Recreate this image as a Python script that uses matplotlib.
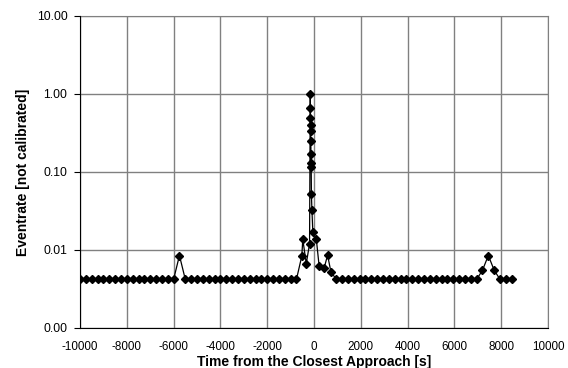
import matplotlib
matplotlib.use("Agg")
import matplotlib.pyplot as plt
from matplotlib.ticker import FixedLocator, FixedFormatter, NullLocator

plt.rcParams["font.family"] = ["Liberation Sans", "DejaVu Sans"]

# ------------------------------------------------------------
# Data
# ------------------------------------------------------------
time_before = [-10000, -9750, -9500, -9250, -9000, -8750, -8500, -8250,
               -8000, -7750, -7500, -7250, -7000, -6750, -6500, -6250,
               -6000, -5750, -5500, -5250, -5000, -4750, -4500, -4250,
               -4000, -3750, -3500, -3250, -3000, -2750, -2500, -2250,
               -2000, -1750, -1500, -1250, -1000, -750]
rate_before = [0.0042, 0.0042, 0.0042, 0.0042, 0.0042, 0.0042, 0.0042, 0.0042,
               0.0042, 0.0042, 0.0042, 0.0042, 0.0042, 0.0042, 0.0042, 0.0042,
               0.0042, 0.0085, 0.0042, 0.0042, 0.0042, 0.0042, 0.0042, 0.0042,
               0.0042, 0.0042, 0.0042, 0.0042, 0.0042, 0.0042, 0.0042, 0.0042,
               0.0042, 0.0042, 0.0042, 0.0042, 0.0042, 0.0042]

time_peak = [-520, -480, -330, -190, -160, -155, -150, -145, -140, -135,
             -130, -125, -120, -110, -90, -50, 100, 220, 430, 580, 720]
rate_peak = [0.0084, 0.0137, 0.0067, 0.0120, 1.0, 0.66, 0.49, 0.40, 0.34, 0.25,
             0.17, 0.13, 0.117, 0.052, 0.033, 0.0172, 0.0137, 0.0062, 0.0058,
             0.0086, 0.0053]

time_after = [950, 1200, 1450, 1700, 1950, 2200, 2450, 2700, 2950, 3200,
              3450, 3700, 3950, 4200, 4450, 4700, 4950, 5200, 5450, 5700,
              5950, 6200, 6450, 6700, 6950, 7200, 7450, 7700, 7950, 8200, 8450]
rate_after = [0.0042, 0.0042, 0.0042, 0.0042, 0.0042, 0.0042, 0.0042, 0.0042,
              0.0042, 0.0042, 0.0042, 0.0042, 0.0042, 0.0042, 0.0042, 0.0042,
              0.0042, 0.0042, 0.0042, 0.0042, 0.0042, 0.0042, 0.0042, 0.0042,
              0.0042, 0.0055, 0.0085, 0.0055, 0.0042, 0.0042, 0.0042]

x_ticks = [-10000, -8000, -6000, -4000, -2000, 0, 2000, 4000, 6000, 8000, 10000]
y_ticks = [0.001, 0.01, 0.1, 1.0, 10.0]
y_labels = ["0.00", "0.01", "0.10", "1.00", "10.00"]

times = time_before + time_peak + time_after
rates = rate_before + rate_peak + rate_after

# ------------------------------------------------------------
# Figure
# ------------------------------------------------------------
fig = plt.figure(figsize=(5.68, 3.68), dpi=100)
ax = fig.add_axes([80 / 568, 1 - 328 / 368, 468 / 568, 312 / 368])

ax.plot(times, rates, color="black", lw=0.9, marker="D", markersize=4.2,
        markerfacecolor="black", markeredgecolor="black", zorder=3)

ax.set_yscale("log")
ax.set_ylim(0.001, 10)
ax.set_xlim(-10000, 10000)

ax.yaxis.set_major_locator(FixedLocator(y_ticks))
ax.yaxis.set_major_formatter(FixedFormatter(y_labels))
ax.yaxis.set_minor_locator(NullLocator())
ax.set_xticks(x_ticks)
ax.set_xticklabels([str(t) for t in x_ticks])

ax.grid(True, which="major", color="#808080", lw=1.0)
ax.set_axisbelow(True)

for side in ["top", "right"]:
    ax.spines[side].set_color("#808080")
for side in ["left", "bottom"]:
    ax.spines[side].set_color("black")
    ax.spines[side].set_zorder(4)

ax.tick_params(axis="y", direction="out", length=4, width=0.8, pad=5,
               labelsize=8.8, colors="black")
ax.tick_params(axis="x", length=0, pad=9, labelsize=8.4, colors="black")

ax.set_xlabel("Time from the Closest Approach [s]", fontsize=10,
              fontweight="bold", labelpad=1.5)
ax.set_ylabel("Eventrate [not calibrated]", fontsize=10,
              fontweight="bold", labelpad=5)

fig.savefig("out.png", dpi=100, facecolor="white")
